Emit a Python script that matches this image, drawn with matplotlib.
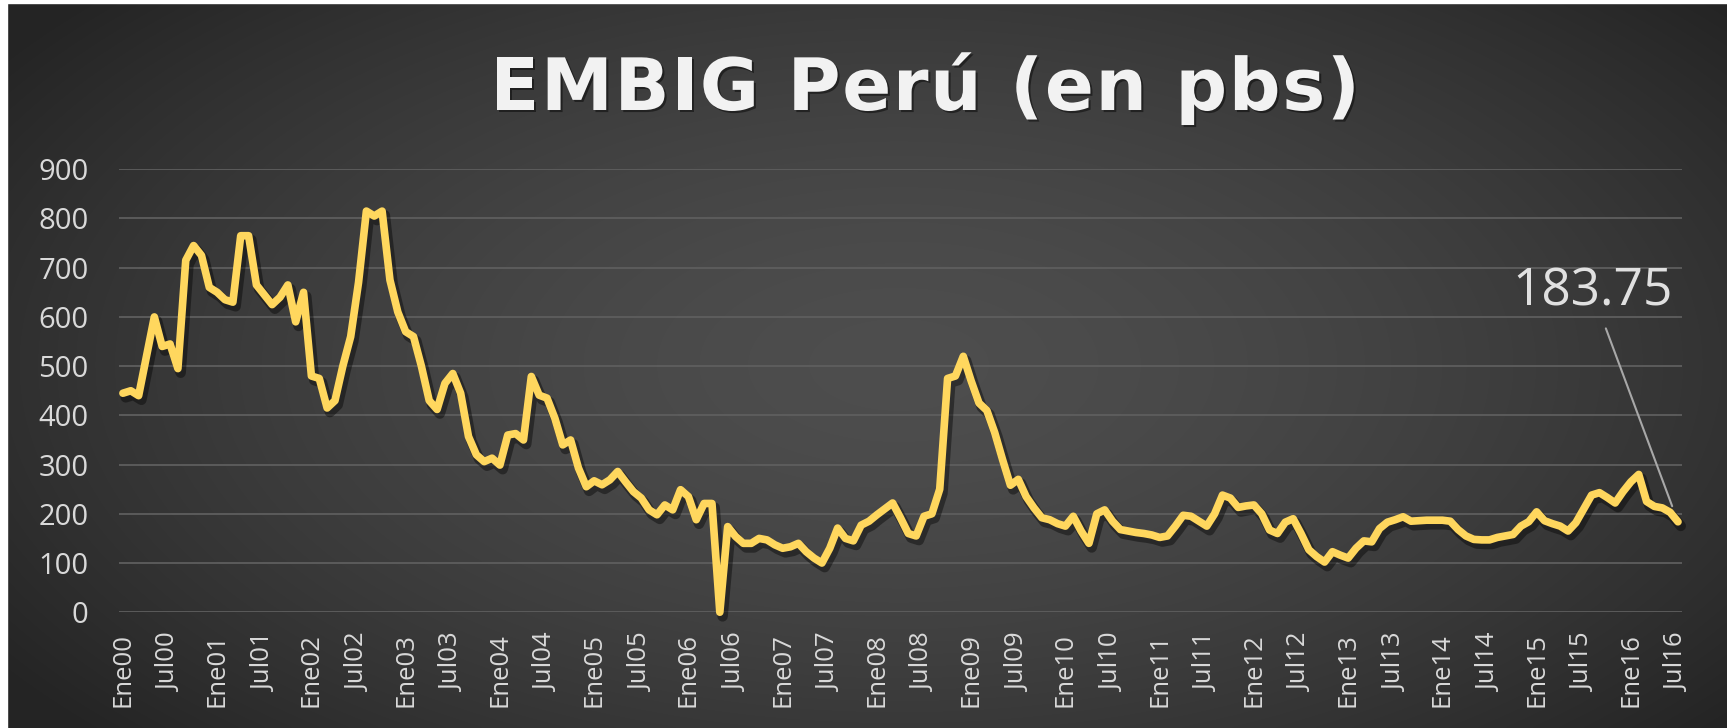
import numpy as np
import matplotlib
matplotlib.use('Agg')
import matplotlib.pyplot as plt
import matplotlib.patheffects as pe
from matplotlib.font_manager import FontProperties

# EMBIG Perú, mensual Ene00 - Jul16 (pbs)
embig = [445, 450, 440, 520, 600, 540, 545, 495, 715, 745, 725, 660,
         650, 635, 630, 765, 765, 665, 645, 625, 640, 665, 590, 650,
         480, 475, 415, 430, 500, 560, 670, 815, 805, 815, 675, 610,
         570, 560, 500, 430, 412, 465, 485, 445, 357, 320, 306, 313,
         299, 360, 363, 350, 479, 441, 435, 394, 340, 350, 293, 255,
         267, 259, 269, 286, 265, 245, 232, 208, 198, 218, 208, 249,
         235, 188, 221, 221, 0, 174, 154, 140, 140, 150, 147, 137,
         130, 133, 140, 123, 110, 100, 130, 171, 150, 145, 177, 185,
         198, 210, 222, 192, 160, 155, 195, 200, 250, 475, 480, 520,
         470, 425, 410, 365, 310, 258, 270, 235, 212, 192, 188, 180,
         175, 195, 165, 140, 200, 208, 185, 168, 165, 162, 160, 157,
         152, 155, 175, 197, 195, 185, 175, 200, 238, 232, 213, 216,
         218, 200, 167, 160, 183, 190, 160, 127, 113, 102, 123, 116,
         110, 130, 145, 143, 170, 183, 188, 194, 185, 186, 187, 187,
         187, 185, 168, 155, 148, 147, 147, 152, 155, 158, 175, 184,
         204, 186, 180, 175, 165, 182, 210, 238, 243, 233, 222, 245,
         265, 280, 225, 215, 212, 203, 183.75]

years = ['00', '01', '02', '03', '04', '05', '06', '07', '08',
         '09', '10', '11', '12', '13', '14', '15', '16']
tick_labels = []
for y in years:
    tick_labels += ['Ene' + y, 'Jul' + y]

last_label = '183.75'
title = 'EMBIG Perú (en pbs)'

W, H = 1727, 728
fig = plt.figure(figsize=(W / 100, H / 100), dpi=100)

# fondo con degradado radial
bg = fig.add_axes([0, 0, 1, 1], zorder=-5)
h, w = 364, 864
yy, xx = np.mgrid[0:h, 0:w]
r = np.sqrt(((xx / w - 0.52) / 0.62) ** 2 + ((yy / h - 0.5) / 0.75) ** 2)
r = np.clip(r, 0, 1)
val = (0.305 - 0.16 * r ** 1.6)
img = np.dstack([val, val, val])
bg.imshow(img, aspect='auto', extent=[0, 1, 0, 1], interpolation='bicubic')
bg.set_xlim(0, 1)
bg.set_ylim(0, 1)
bg.axis('off')
# borde blanco arriba e izquierda
bg.axvspan(0, 7 / W, color='white')
bg.axhspan(1 - 3 / H, 1, color='white')

ax = fig.add_axes([0.0689, 0.159, 0.905, 0.6085])
ax.set_facecolor('none')

x = np.arange(len(embig))
ax.plot(x, embig, color='#FFD75E', lw=5.5, solid_joinstyle='round',
        solid_capstyle='round', clip_on=False, zorder=3,
        path_effects=[pe.SimpleLineShadow(offset=(2, -3), shadow_color='black',
                                          alpha=0.4, linewidth=7.5),
                      pe.Normal()])

ax.set_xlim(-0.5, len(embig) - 0.5)
ax.set_ylim(0, 900)
ax.set_yticks(range(0, 901, 100))
ax.set_xticks(range(0, len(embig), 6))
ax.set_xticklabels(tick_labels, rotation=90, fontsize=18.5, color='#d9d9d9',
                   family='Open Sans')
ax.tick_params(axis='x', length=0, pad=15)
ax.tick_params(axis='y', length=0, pad=22, labelsize=21, labelcolor='#d9d9d9')
for t in ax.get_yticklabels():
    t.set_family('Open Sans')

ax.grid(axis='y', color='#5e5e5e', lw=1.3)
ax.set_axisbelow(True)
for s in ax.spines.values():
    s.set_visible(False)

ax.annotate(last_label, xy=(x[-1], embig[-1]), xytext=(187.1, 650),
            ha='center', va='center', fontsize=37, color='#e0e0e0',
            family='Open Sans',
            arrowprops=dict(arrowstyle='-', color='#a8a8a8', lw=1.5,
                            shrinkA=6, shrinkB=12))

# título con algo de espaciado entre letras
fp = FontProperties(family='DejaVu Sans', weight='bold', size=52)
renderer = fig.canvas.get_renderer()
widths = [renderer.get_text_width_height_descent(c, fp, ismath=False)[0]
          for c in title]
left, right = 490, 1360
track = (right - left - sum(widths)) / (len(title) - 1)
xpos = left
for c, cw in zip(title, widths):
    fig.text(xpos / W, 1 - 110 / H, c, ha='left', va='baseline',
             fontproperties=fp, color='#f2f2f2',
             path_effects=[pe.withSimplePatchShadow(offset=(1.5, -1.5),
                                                    shadow_rgbFace='black',
                                                    alpha=0.45)])
    xpos += cw + track

fig.savefig('out.png', dpi=100)
